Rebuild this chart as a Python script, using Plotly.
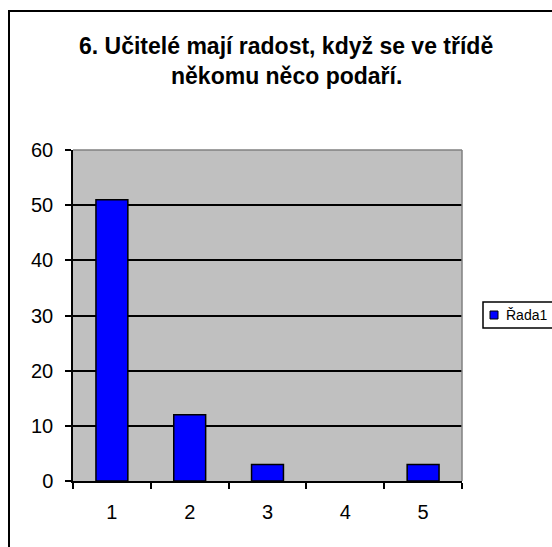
import plotly.graph_objects as go

categories = ["1", "2", "3", "4", "5"]
values = [51, 12, 3, 0, 3]
series_name = "Řada1"
title_line1 = "6. Učitelé mají radost, když se ve třídě"
title_line2 = "někomu něco podaří."
y_ticks = [0, 10, 20, 30, 40, 50, 60]

W, H = 552, 547
L, R, T, B = 73, 90, 150, 66
pw = W - L - R
ph = H - T - B

def px(x):
    return (x - L) / pw

def py(y):
    return (H - B - y) / ph

FONT = "Liberation Sans, Arial, sans-serif"

fig = go.Figure()
fig.add_trace(go.Bar(
    x=categories, y=values, name=series_name,
    marker=dict(color="#0000FF",
                line=dict(color="black", width=[1.5 if v > 0 else 0 for v in values])),
    width=0.41, showlegend=False,
))

fig.update_layout(
    width=W, height=H,
    margin=dict(l=L, r=R, t=T, b=B),
    paper_bgcolor="white",
    plot_bgcolor="#C0C0C0",
    font=dict(family=FONT, color="black", size=20),
    showlegend=False,
    xaxis=dict(
        type="category", tickson="boundaries", ticks="outside", ticklen=6,
        tickwidth=1.5, tickcolor="black", showline=True, linecolor="black",
        linewidth=1.5, showgrid=False, ticklabelstandoff=12,
        tickfont=dict(size=20, family=FONT),
    ),
    yaxis=dict(
        range=[0, 60], tickvals=y_ticks, ticks="outside", ticklen=6,
        tickwidth=1.5, tickcolor="black", showline=True, linecolor="black",
        linewidth=1.5, showgrid=True, gridcolor="black", gridwidth=1.5,
        zeroline=False, ticklabelstandoff=8,
        tickfont=dict(size=20, family=FONT),
    ),
)

shapes = [
    # grey top/right plot border
    dict(type="line", xref="paper", yref="paper", x0=0, x1=1, y0=1, y1=1,
         line=dict(color="#808080", width=1.5), layer="above"),
    dict(type="line", xref="paper", yref="paper", x0=1, x1=1, y0=0, y1=1,
         line=dict(color="#808080", width=1.5), layer="above"),
    # outer chart border
    dict(type="rect", xref="paper", yref="paper", x0=px(9), x1=px(570),
         y0=py(565), y1=py(11), line=dict(color="black", width=2),
         fillcolor="rgba(0,0,0,0)", layer="above"),
    # legend box
    dict(type="rect", xref="paper", yref="paper", x0=px(483), x1=px(575),
         y0=py(328), y1=py(302), line=dict(color="black", width=1.5),
         fillcolor="white", layer="above"),
    # legend swatch
    dict(type="rect", xref="paper", yref="paper", x0=px(490), x1=px(498),
         y0=py(319), y1=py(311), line=dict(color="black", width=1),
         fillcolor="#0000FF", layer="above"),
]
fig.update_layout(shapes=shapes)

fig.add_annotation(x=px(286), y=py(46), xref="paper", yref="paper",
                   text="<b>" + title_line1 + "</b>", showarrow=False,
                   xanchor="center", yanchor="middle",
                   font=dict(size=23, family=FONT, color="black"))
fig.add_annotation(x=px(286), y=py(76), xref="paper", yref="paper",
                   text="<b>" + title_line2 + "</b>", showarrow=False,
                   xanchor="center", yanchor="middle",
                   font=dict(size=23, family=FONT, color="black"))
fig.add_annotation(x=px(504), y=py(315), xref="paper", yref="paper",
                   text=series_name, showarrow=False,
                   xanchor="left", yanchor="middle",
                   font=dict(size=14, family=FONT, color="black"))

fig.write_html("out.html", config={"displayModeBar": False},
               post_script="document.body.style.margin='0';")
